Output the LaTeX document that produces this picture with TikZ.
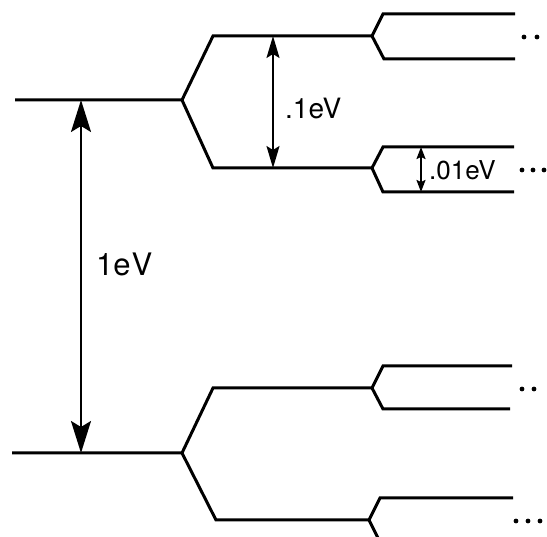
\documentclass[tikz,border=0pt]{standalone}
\usepackage{fontspec}
\setmainfont{TeX Gyre Heros}
\usetikzlibrary{arrows.meta}
\begin{document}
\begin{tikzpicture}[x=1pt,y=-1pt,
  level/.style={line width=3pt,line join=miter},
  gap/.style={line width=1.8pt},
  bigtip/.style={{Stealth[length=32pt,width=20pt,inset=6pt]}-{Stealth[length=32pt,width=20pt,inset=6pt]}},
  midtip/.style={{Stealth[length=22pt,width=13pt,inset=4pt]}-{Stealth[length=22pt,width=13pt,inset=4pt]}},
  smalltip/.style={{Stealth[length=12pt,width=9pt,inset=2pt]}-{Stealth[length=12pt,width=9pt,inset=2pt]}},
  biglbl/.style={font=\fontsize{31}{35}\selectfont,inner sep=0pt,anchor=west},
  lbl/.style={font=\fontsize{28}{32}\selectfont,inner sep=0pt,anchor=west},
  smlbl/.style={font=\fontsize{26}{30}\selectfont,inner sep=0pt,anchor=west}]
\useasboundingbox (0,0) rectangle (547,537);
% level 0
\coordinate (t0s) at (15,100); \coordinate (t0v) at (182,100);
\coordinate (b0s) at (12,453); \coordinate (b0v) at (182,453);
% level 1
\coordinate (t1u) at (213,36);  \coordinate (t1uv) at (372,36);
\coordinate (t1l) at (213,168); \coordinate (t1lv) at (372,168);
\coordinate (b1u) at (213,388); \coordinate (b1uv) at (372,388);
\coordinate (b1l) at (216,520); \coordinate (b1lv) at (369,520);
% level 2
\coordinate (a1) at (383,14);  \coordinate (a1e) at (515,14);
\coordinate (a2) at (384,59);  \coordinate (a2e) at (515,59);
\coordinate (c1) at (383,147); \coordinate (c1e) at (514,147);
\coordinate (c2) at (383,192); \coordinate (c2e) at (514,192);
\coordinate (d1) at (383,366); \coordinate (d1e) at (512,366);
\coordinate (d2) at (383,409); \coordinate (d2e) at (510,409);
\coordinate (e1) at (380,498); \coordinate (e1e) at (513,498);
\coordinate (e2) at (380,542);

\draw[level] (t0s) -- (t0v) -- (t1u) -- (t1uv) -- (a1) -- (a1e);
\draw[level] (t1uv) -- (a2) -- (a2e);
\draw[level] (t0v) -- (t1l) -- (t1lv) -- (c1) -- (c1e);
\draw[level] (t1lv) -- (c2) -- (c2e);
\draw[level] (b0s) -- (b0v) -- (b1u) -- (b1uv) -- (d1) -- (d1e);
\draw[level] (b1uv) -- (d2) -- (d2e);
\draw[level] (b0v) -- (b1l) -- (b1lv) -- (e1) -- (e1e);
\draw[level] (b1lv) -- (e2);

% gaps
\coordinate (g0t) at (81,100); \coordinate (g0b) at (81,453);
\draw[gap,bigtip] (g0t) -- (g0b);
\node[biglbl] (l0) at (96,264) {1e\kern1ptV};
\coordinate (g1t) at (273,36); \coordinate (g1b) at (273,168);
\draw[gap,midtip] (g1t) -- (g1b);
\node[lbl] (l1) at (285,109) {.1eV};
\coordinate (g2t) at (421,147); \coordinate (g2b) at (421,192);
\draw[gap,smalltip] (g2t) -- (g2b);
\node[smlbl] (l2) at (429,170) {.01eV};

% dots
\foreach \x/\y [count=\i] in {524/37,537/37,522/170,533/170,544/170,522/389,534/389,516/521,528/521,540/521}
  \fill (\x,\y) circle (2.4pt);
\end{tikzpicture}
\end{document}
